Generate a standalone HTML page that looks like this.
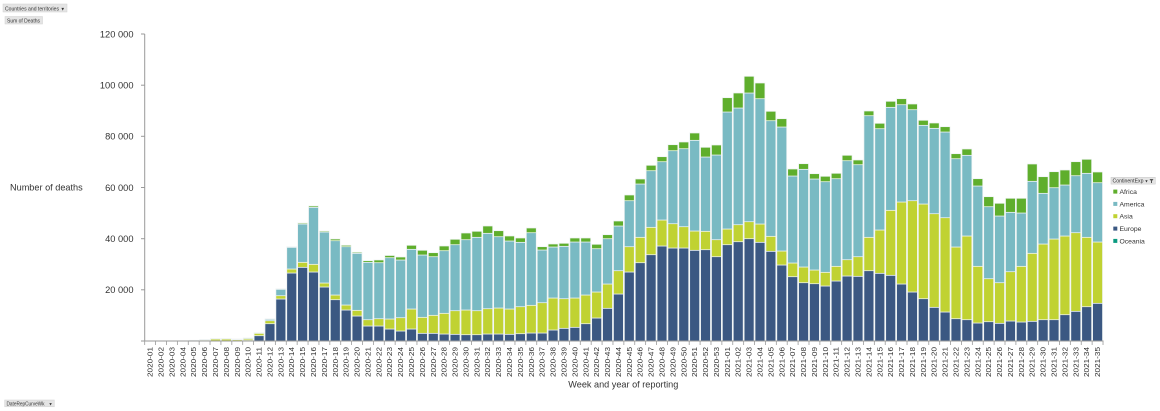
<!DOCTYPE html>
<html>
<head>
<meta charset="utf-8">
<style>
html,body{margin:0;padding:0;background:#fff;}
body{width:1160px;height:411px;overflow:hidden;font-family:"Liberation Sans",sans-serif;}
svg{display:block;}
</style>
</head>
<body>
<svg id="chart" width="1160" height="411" viewBox="0 0 1160 411" xmlns="http://www.w3.org/2000/svg" font-family="Liberation Sans, sans-serif">
<!-- top-left buttons -->
<rect x="3" y="4" width="64" height="8" fill="#e4e4e4" stroke="#d0d0d0" stroke-width="0.5"/>
<text x="5" y="10.3" font-size="5.3" fill="#333" textLength="54" lengthAdjust="spacingAndGlyphs">Countries and territories</text>
<text x="60.5" y="10.3" font-size="4.5" fill="#333">▼</text>
<rect x="5" y="16.5" width="37.5" height="7.5" fill="#e4e4e4" stroke="#d0d0d0" stroke-width="0.5"/>
<text x="7" y="22.4" font-size="5.3" fill="#333" textLength="33" lengthAdjust="spacingAndGlyphs">Sum of Deaths</text>
<!-- bottom-left button -->
<rect x="4.7" y="400" width="49.6" height="6.8" fill="#e4e4e4" stroke="#d0d0d0" stroke-width="0.5"/>
<text x="6.5" y="405.4" font-size="5" fill="#333" textLength="38" lengthAdjust="spacingAndGlyphs">DateRepCurveWk</text>
<text x="48.5" y="405.4" font-size="4.2" fill="#333">▼</text>

<!-- y axis title -->
<text x="10" y="190.5" font-size="9.2" fill="#333" textLength="72.7" lengthAdjust="spacingAndGlyphs">Number of deaths</text>
<!-- y labels -->
<g font-size="9.3" fill="#333" text-anchor="end">
<text x="133.5" y="37.3">120 000</text>
<text x="133.5" y="88.5">100 000</text>
<text x="133.5" y="139.6">80 000</text>
<text x="133.5" y="190.8">60 000</text>
<text x="133.5" y="242">40 000</text>
<text x="133.5" y="293.1">20 000</text>
</g>
<!-- x axis title -->
<text x="568.3" y="387.3" font-size="9.5" fill="#333" textLength="110" lengthAdjust="spacingAndGlyphs">Week and year of reporting</text>

<g id="bars"></g>

<!-- axes -->
<g stroke="#9a9a9a" stroke-width="1" fill="none">
<line x1="144.7" y1="34" x2="144.7" y2="341.5"/>
<line x1="144.2" y1="341" x2="1103.5" y2="341"/>
<line x1="141" y1="34" x2="144.7" y2="34"/>
<line x1="141" y1="85.2" x2="144.7" y2="85.2"/>
<line x1="141" y1="136.3" x2="144.7" y2="136.3"/>
<line x1="141" y1="187.5" x2="144.7" y2="187.5"/>
<line x1="141" y1="238.7" x2="144.7" y2="238.7"/>
<line x1="141" y1="289.8" x2="144.7" y2="289.8"/>
<line x1="141" y1="341" x2="144.7" y2="341"/>
</g>
<g id="xticks" stroke="#9a9a9a" stroke-width="0.8"></g>

<!-- x labels -->
<g transform="rotate(-90)" font-size="7.6" fill="#333" text-anchor="end">
<text x="-347" y="152.65" textLength="30" lengthAdjust="spacingAndGlyphs">2020-01</text>
<text x="-347" y="163.54" textLength="30" lengthAdjust="spacingAndGlyphs">2020-02</text>
<text x="-347" y="174.43" textLength="30" lengthAdjust="spacingAndGlyphs">2020-03</text>
<text x="-347" y="185.32" textLength="30" lengthAdjust="spacingAndGlyphs">2020-04</text>
<text x="-347" y="196.21" textLength="30" lengthAdjust="spacingAndGlyphs">2020-05</text>
<text x="-347" y="207.10" textLength="30" lengthAdjust="spacingAndGlyphs">2020-06</text>
<text x="-347" y="217.99" textLength="30" lengthAdjust="spacingAndGlyphs">2020-07</text>
<text x="-347" y="228.88" textLength="30" lengthAdjust="spacingAndGlyphs">2020-08</text>
<text x="-347" y="239.77" textLength="30" lengthAdjust="spacingAndGlyphs">2020-09</text>
<text x="-347" y="250.66" textLength="30" lengthAdjust="spacingAndGlyphs">2020-10</text>
<text x="-347" y="261.55" textLength="30" lengthAdjust="spacingAndGlyphs">2020-11</text>
<text x="-347" y="272.44" textLength="30" lengthAdjust="spacingAndGlyphs">2020-12</text>
<text x="-347" y="283.33" textLength="30" lengthAdjust="spacingAndGlyphs">2020-13</text>
<text x="-347" y="294.22" textLength="30" lengthAdjust="spacingAndGlyphs">2020-14</text>
<text x="-347" y="305.11" textLength="30" lengthAdjust="spacingAndGlyphs">2020-15</text>
<text x="-347" y="316.00" textLength="30" lengthAdjust="spacingAndGlyphs">2020-16</text>
<text x="-347" y="326.89" textLength="30" lengthAdjust="spacingAndGlyphs">2020-17</text>
<text x="-347" y="337.78" textLength="30" lengthAdjust="spacingAndGlyphs">2020-18</text>
<text x="-347" y="348.67" textLength="30" lengthAdjust="spacingAndGlyphs">2020-19</text>
<text x="-347" y="359.56" textLength="30" lengthAdjust="spacingAndGlyphs">2020-20</text>
<text x="-347" y="370.45" textLength="30" lengthAdjust="spacingAndGlyphs">2020-21</text>
<text x="-347" y="381.34" textLength="30" lengthAdjust="spacingAndGlyphs">2020-22</text>
<text x="-347" y="392.23" textLength="30" lengthAdjust="spacingAndGlyphs">2020-23</text>
<text x="-347" y="403.12" textLength="30" lengthAdjust="spacingAndGlyphs">2020-24</text>
<text x="-347" y="414.01" textLength="30" lengthAdjust="spacingAndGlyphs">2020-25</text>
<text x="-347" y="424.90" textLength="30" lengthAdjust="spacingAndGlyphs">2020-26</text>
<text x="-347" y="435.79" textLength="30" lengthAdjust="spacingAndGlyphs">2020-27</text>
<text x="-347" y="446.68" textLength="30" lengthAdjust="spacingAndGlyphs">2020-28</text>
<text x="-347" y="457.57" textLength="30" lengthAdjust="spacingAndGlyphs">2020-29</text>
<text x="-347" y="468.46" textLength="30" lengthAdjust="spacingAndGlyphs">2020-30</text>
<text x="-347" y="479.35" textLength="30" lengthAdjust="spacingAndGlyphs">2020-31</text>
<text x="-347" y="490.24" textLength="30" lengthAdjust="spacingAndGlyphs">2020-32</text>
<text x="-347" y="501.13" textLength="30" lengthAdjust="spacingAndGlyphs">2020-33</text>
<text x="-347" y="512.02" textLength="30" lengthAdjust="spacingAndGlyphs">2020-34</text>
<text x="-347" y="522.91" textLength="30" lengthAdjust="spacingAndGlyphs">2020-35</text>
<text x="-347" y="533.80" textLength="30" lengthAdjust="spacingAndGlyphs">2020-36</text>
<text x="-347" y="544.69" textLength="30" lengthAdjust="spacingAndGlyphs">2020-37</text>
<text x="-347" y="555.58" textLength="30" lengthAdjust="spacingAndGlyphs">2020-38</text>
<text x="-347" y="566.47" textLength="30" lengthAdjust="spacingAndGlyphs">2020-39</text>
<text x="-347" y="577.36" textLength="30" lengthAdjust="spacingAndGlyphs">2020-40</text>
<text x="-347" y="588.25" textLength="30" lengthAdjust="spacingAndGlyphs">2020-41</text>
<text x="-347" y="599.14" textLength="30" lengthAdjust="spacingAndGlyphs">2020-42</text>
<text x="-347" y="610.03" textLength="30" lengthAdjust="spacingAndGlyphs">2020-43</text>
<text x="-347" y="620.92" textLength="30" lengthAdjust="spacingAndGlyphs">2020-44</text>
<text x="-347" y="631.81" textLength="30" lengthAdjust="spacingAndGlyphs">2020-45</text>
<text x="-347" y="642.70" textLength="30" lengthAdjust="spacingAndGlyphs">2020-46</text>
<text x="-347" y="653.59" textLength="30" lengthAdjust="spacingAndGlyphs">2020-47</text>
<text x="-347" y="664.48" textLength="30" lengthAdjust="spacingAndGlyphs">2020-48</text>
<text x="-347" y="675.37" textLength="30" lengthAdjust="spacingAndGlyphs">2020-49</text>
<text x="-347" y="686.26" textLength="30" lengthAdjust="spacingAndGlyphs">2020-50</text>
<text x="-347" y="697.15" textLength="30" lengthAdjust="spacingAndGlyphs">2020-51</text>
<text x="-347" y="708.04" textLength="30" lengthAdjust="spacingAndGlyphs">2020-52</text>
<text x="-347" y="718.93" textLength="30" lengthAdjust="spacingAndGlyphs">2020-53</text>
<text x="-347" y="729.82" textLength="30" lengthAdjust="spacingAndGlyphs">2021-01</text>
<text x="-347" y="740.71" textLength="30" lengthAdjust="spacingAndGlyphs">2021-02</text>
<text x="-347" y="751.60" textLength="30" lengthAdjust="spacingAndGlyphs">2021-03</text>
<text x="-347" y="762.49" textLength="30" lengthAdjust="spacingAndGlyphs">2021-04</text>
<text x="-347" y="773.38" textLength="30" lengthAdjust="spacingAndGlyphs">2021-05</text>
<text x="-347" y="784.27" textLength="30" lengthAdjust="spacingAndGlyphs">2021-06</text>
<text x="-347" y="795.16" textLength="30" lengthAdjust="spacingAndGlyphs">2021-07</text>
<text x="-347" y="806.05" textLength="30" lengthAdjust="spacingAndGlyphs">2021-08</text>
<text x="-347" y="816.94" textLength="30" lengthAdjust="spacingAndGlyphs">2021-09</text>
<text x="-347" y="827.83" textLength="30" lengthAdjust="spacingAndGlyphs">2021-10</text>
<text x="-347" y="838.72" textLength="30" lengthAdjust="spacingAndGlyphs">2021-11</text>
<text x="-347" y="849.61" textLength="30" lengthAdjust="spacingAndGlyphs">2021-12</text>
<text x="-347" y="860.50" textLength="30" lengthAdjust="spacingAndGlyphs">2021-13</text>
<text x="-347" y="871.39" textLength="30" lengthAdjust="spacingAndGlyphs">2021-14</text>
<text x="-347" y="882.28" textLength="30" lengthAdjust="spacingAndGlyphs">2021-15</text>
<text x="-347" y="893.17" textLength="30" lengthAdjust="spacingAndGlyphs">2021-16</text>
<text x="-347" y="904.06" textLength="30" lengthAdjust="spacingAndGlyphs">2021-17</text>
<text x="-347" y="914.95" textLength="30" lengthAdjust="spacingAndGlyphs">2021-18</text>
<text x="-347" y="925.84" textLength="30" lengthAdjust="spacingAndGlyphs">2021-19</text>
<text x="-347" y="936.73" textLength="30" lengthAdjust="spacingAndGlyphs">2021-20</text>
<text x="-347" y="947.62" textLength="30" lengthAdjust="spacingAndGlyphs">2021-21</text>
<text x="-347" y="958.51" textLength="30" lengthAdjust="spacingAndGlyphs">2021-22</text>
<text x="-347" y="969.40" textLength="30" lengthAdjust="spacingAndGlyphs">2021-23</text>
<text x="-347" y="980.29" textLength="30" lengthAdjust="spacingAndGlyphs">2021-24</text>
<text x="-347" y="991.18" textLength="30" lengthAdjust="spacingAndGlyphs">2021-25</text>
<text x="-347" y="1002.07" textLength="30" lengthAdjust="spacingAndGlyphs">2021-26</text>
<text x="-347" y="1012.96" textLength="30" lengthAdjust="spacingAndGlyphs">2021-27</text>
<text x="-347" y="1023.85" textLength="30" lengthAdjust="spacingAndGlyphs">2021-28</text>
<text x="-347" y="1034.74" textLength="30" lengthAdjust="spacingAndGlyphs">2021-29</text>
<text x="-347" y="1045.63" textLength="30" lengthAdjust="spacingAndGlyphs">2021-30</text>
<text x="-347" y="1056.52" textLength="30" lengthAdjust="spacingAndGlyphs">2021-31</text>
<text x="-347" y="1067.41" textLength="30" lengthAdjust="spacingAndGlyphs">2021-32</text>
<text x="-347" y="1078.30" textLength="30" lengthAdjust="spacingAndGlyphs">2021-33</text>
<text x="-347" y="1089.19" textLength="30" lengthAdjust="spacingAndGlyphs">2021-34</text>
<text x="-347" y="1100.08" textLength="30" lengthAdjust="spacingAndGlyphs">2021-35</text>
</g>

<!-- legend -->
<rect x="1111" y="177.3" width="44.3" height="6.8" fill="#e4e4e4" stroke="#c8c8c8" stroke-width="0.5"/>
<text x="1112.5" y="182.5" font-size="5" fill="#333" textLength="31" lengthAdjust="spacingAndGlyphs">ContinentExp</text>
<text x="1144.5" y="182.5" font-size="4" fill="#333">▼</text>
<path d="M1149.5 179 h4 l-1.5 2 v2 h-1 v-2 z" fill="#555"/>
<rect x="1113.3" y="189.6" width="4" height="4" fill="#5fae2c"/>
<rect x="1113.3" y="201.9" width="4" height="4" fill="#79bac3"/>
<rect x="1113.3" y="214.2" width="4" height="4" fill="#c0d232"/>
<rect x="1113.3" y="226.6" width="4" height="4" fill="#3b5882"/>
<rect x="1113.3" y="238.9" width="4" height="4" fill="#0a9a80"/>
<g font-size="6.8" fill="#333">
<text x="1119.5" y="194">Africa</text>
<text x="1119.5" y="206.3">America</text>
<text x="1119.5" y="218.6">Asia</text>
<text x="1119.5" y="231">Europe</text>
<text x="1119.5" y="243.3">Oceania</text>
</g>
</svg>
<script>
(function(){
var T=[
[341,341,341,341],[341,341,341,341],[341,341,341,341],[341,341,341,341],
[341,340.7,340.7,340.3],[341,340,340,339.5],[340.8,339,339,338.5],[340.8,339,339,338.5],
[340.8,339.7,339.5,339],[340.5,339,338.8,338],[335.7,333.3,333,332.7],[323.7,320.7,319.3,318.8],
[299,295.7,289.3,288.8],[273,269,247.3,246.7],[267.3,262.3,224,223],[272,264.3,207.3,206],
[287,283,232,231],[299.7,295,240.7,239],[310,305,246.7,245.3],[316,310.3,253.3,252.3],
[326,319.7,262.3,260.7],[326,318.7,262.7,260],[329,319,257.7,255.5],[331,317.7,260,257],
[329,309,249.3,245.3],[333.3,317.3,255,250.3],[333.3,315.3,256.7,252.7],[334,313.3,250.7,246],
[334.3,310.7,244.7,239.3],[334.7,310,239.7,233],[334.7,310.7,237.3,231.3],[334,308.7,233.3,226],
[334,308,236.7,230.7],[334.3,309,241,236],[333.7,306.7,242.3,238],[333,305.3,232.7,228],
[333,302.7,250,246.7],[330,298,247,244],[328.3,298.7,246.3,243.3],[327.3,298,242,238],
[323.7,295,242,238],[318,292,248.7,244.3],[308.3,284,238.7,234.7],[294,270.7,226,221],
[272,246.7,200.7,195],[262.7,237.3,184,179],[254.7,227.3,170.7,165.3],[246,220,161.7,156.7],
[248,223.7,150.7,144.7],[248,226.7,148.7,142],[250.3,231,140.3,133],[249.7,231.3,157,147.3],
[256.7,239.7,155,145],[244.7,229,112,97.7],[241.7,224.7,108,93],[238.7,221.7,93,76.3],
[242.3,224,98.7,83],[251.3,236.3,120.7,111.3],[265,251,127,118.7],[276.7,263,176,169],
[282.7,267,169.3,163.7],[283.7,270,179,173.7],[286,272.3,181.7,176.3],[281,266.3,178.7,173.3],
[276,259.7,160.7,155.3],[276.3,256.7,164.7,160],[270.7,237.3,115.7,111],[273.3,230,128.7,123.3],
[275.3,210.3,107.3,101.3],[284,202,104.7,98.7],[292,200.7,109.7,104],[298.7,204,125.3,120.3],
[307.3,213.7,128.3,123],[312,217.7,132,126.7],[318.7,247,158.7,153.7],[319.7,236,155.3,149],
[323,266.3,186,178.7],[321.7,278.7,206.7,196.7],[323.3,282.7,216,203.3],[321,271.7,212.3,198.3],
[322,266.3,213,198.3],[321.3,253.3,181.3,164],[319.7,244,193.3,176.7],[319.7,239,187.7,171.7],
[314.7,236,185,170],[311.3,232.7,175.7,161.7],[306.7,237.3,173.3,159.3],[303.3,242,182.7,172]
];
var C=['#3b5882','#c0d232','#79bac3','#5fae2c'];
var NS='http://www.w3.org/2000/svg';
var g=document.getElementById('bars');
var tk=document.getElementById('xticks');
var X0=144.7,W=10.89;
for(var i=0;i<T.length;i++){
  var left=X0+W*i, prev=341;
  for(var k=0;k<4;k++){
    var top=T[i][k];
    if(prev-top>0.05){
      var r=document.createElementNS(NS,'rect');
      r.setAttribute('x',(left+0.5).toFixed(2));
      r.setAttribute('y',top);
      r.setAttribute('width',(W-1).toFixed(2));
      r.setAttribute('height',(prev-top).toFixed(2));
      r.setAttribute('fill',C[k]);
      r.setAttribute('stroke','#eef3f3');
      r.setAttribute('stroke-width','0.7');
      g.appendChild(r);
    }
    prev=top;
  }
}
for(var j=0;j<=T.length;j++){
  var x=(X0+W*j).toFixed(2);
  var l=document.createElementNS(NS,'line');
  l.setAttribute('x1',x);l.setAttribute('x2',x);
  l.setAttribute('y1','341');l.setAttribute('y2','345');
  tk.appendChild(l);
}
})();
</script>
</body>
</html>
